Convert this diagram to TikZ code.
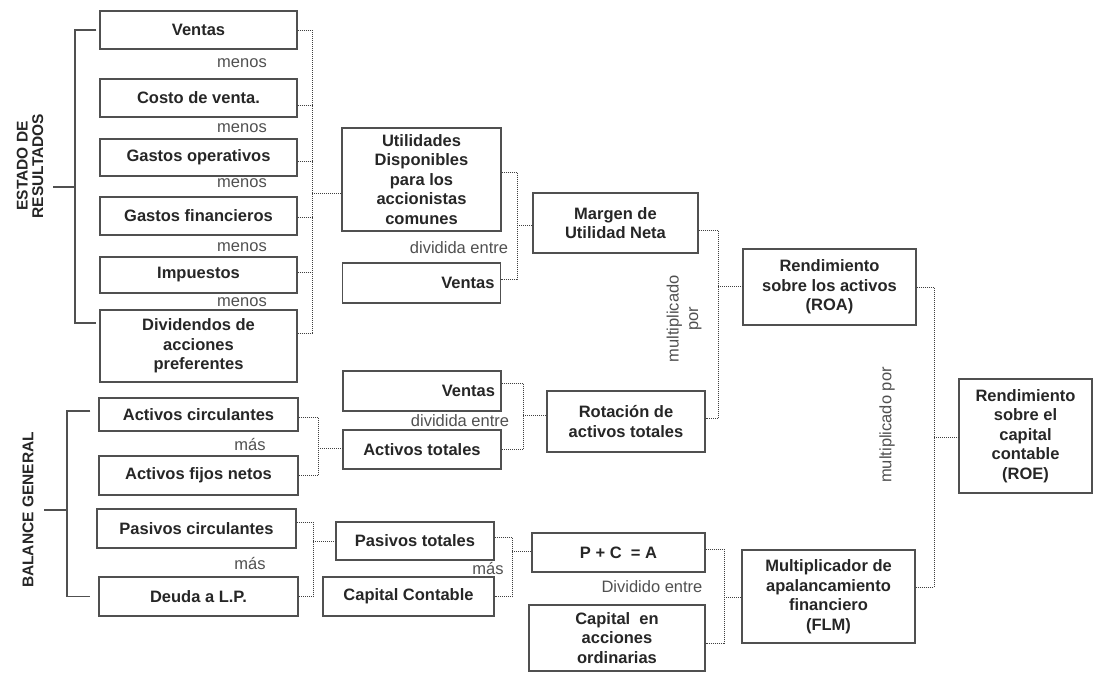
\documentclass[tikz,border=0pt]{standalone}
\usepackage{fontspec}
\setmainfont{Liberation Sans}
\definecolor{boxline}{HTML}{505050}
\definecolor{ink}{HTML}{262626}
\definecolor{labelgray}{HTML}{505050}
\definecolor{dotgray}{HTML}{404040}
\begin{document}
\begin{tikzpicture}[
        x=1pt, y=-1pt,
        box/.style={
            draw=boxline,
            line width=1.4pt,
            align=center,
            inner sep=2pt,
            text=ink,
            font=\fontsize{16.5}{19.5}\selectfont\bfseries
        },
        rbox/.style={
            box,
            align=right,
            inner xsep=6pt
        },
        lbl/.style={
            text=labelgray,
            inner sep=0pt,
            align=center,
            font=\fontsize{16.5}{19.5}\selectfont
        },
        sect/.style={
            rotate=90,
            text=ink,
            align=center,
            inner sep=0pt,
            font=\fontsize{15.5}{15.5}\selectfont\bfseries
        },
        dots/.style={draw=dotgray, line width=1pt, dash pattern=on 1pt off 1pt},
        bracket/.style={draw=boxline, line width=1.4pt}
    ]

    \useasboundingbox (0,0) rectangle (1100,673);

    % estado de resultados
    \node[sect] (er) at (30,166) {ESTADO DE\\RESULTADOS};
    \node[box, minimum width=197pt, minimum height=38pt] (ventasA) at (198.5,30) {Ventas};
    \node[box, minimum width=197pt, minimum height=38pt] (costo) at (198.5,98) {Costo de venta.};
    \node[box, minimum width=197pt, minimum height=37pt] (gop) at (198.5,157.5) {Gastos operativos};
    \node[box, minimum width=197pt, minimum height=38pt] (gfin) at (198.5,216) {Gastos financieros};
    \node[box, minimum width=197pt, minimum height=36pt] (imp) at (198.5,275) {Impuestos};
    \node[box, minimum width=197pt, minimum height=72pt] (divid) at (198.5,346)
        {Dividendos de\\acciones\\preferentes};
    \foreach \y in {63,128,183,247,302}
        \node[lbl] at (242,\y) {menos};

    \node[box, minimum width=159pt, minimum height=103pt] (utild) at (421.5,179.5)
        {Utilidades\\Disponibles\\para los\\accionistas\\comunes};
    \node[rbox, text width=146pt, minimum height=40pt] (ventasB) at (421.5,283) {Ventas};
    \node[lbl] at (459,248) {dividida entre};
    \node[box, minimum width=165pt, minimum height=60pt] (margen) at (615.5,223)
        {Margen de\\Utilidad Neta};

    % balance general
    \node[sect] (bg) at (28,510) {BALANCE GENERAL};
    \node[box, minimum width=199pt, minimum height=33pt] (actc) at (198.5,414.5) {Activos circulantes};
    \node[box, minimum width=199pt, minimum height=39pt] (actf) at (198.5,475.5) {Activos fijos netos};
    \node[box, minimum width=199pt, minimum height=39pt] (pasc) at (196.5,528.5) {Pasivos circulantes};
    \node[box, minimum width=199pt, minimum height=39pt] (deuda) at (198.5,596.5) {Deuda a L.P.};
    \node[lbl] at (250,444) {más};
    \node[lbl] at (250,563) {más};

    \node[rbox, text width=146pt, minimum height=40pt] (ventasC) at (422,391) {Ventas};
    \node[box, minimum width=158pt, minimum height=39pt] (acttot) at (422,449.5) {Activos totales};
    \node[lbl] at (460,421) {dividida entre};
    \node[box, minimum width=158pt, minimum height=61pt] (rotac) at (626,421.5)
        {Rotación de\\activos totales};

    \node[box, minimum width=158pt, minimum height=38pt] (pastot) at (415,541) {Pasivos totales};
    \node[box, minimum width=171pt, minimum height=39pt] (capcont) at (408.5,596.5) {Capital Contable};
    \node[lbl] at (488,568) {más};
    \node[box, minimum width=173pt, minimum height=39pt] (pca) at (618.5,552.5) {P + C \ = A};
    \node[box, minimum width=176pt, minimum height=66pt] (capacc) at (617,638)
        {Capital \ en\\acciones\\ordinarias};
    \node[lbl] at (652,587) {Dividido entre};

    % razones
    \node[box, minimum width=173pt, minimum height=76pt] (roa) at (829.5,287)
        {Rendimiento\\sobre los activos\\(ROA)};
    \node[box, minimum width=173pt, minimum height=93pt] (flm) at (828.5,596.5)
        {Multiplicador de\\apalancamiento\\financiero\\(FLM)};
    \node[box, minimum width=133pt, minimum height=114pt] (roe) at (1025.5,436)
        {Rendimiento\\sobre el\\capital\\contable\\(ROE)};
    \node[lbl, rotate=90] at (684,319) {multiplicado\\por};
    \node[lbl, rotate=90] at (887,425) {multiplicado por};

    % llaves
    \coordinate (erj) at (75,187);
    \draw[bracket] ([xshift=-3pt]ventasA.west) -| (erj) |- ([xshift=-3pt,yshift=23pt]divid.west);
    \draw[bracket] (erj) -- ++(-22,0);
    \coordinate (bgj) at (67,510);
    \draw[bracket] ([xshift=-8pt,yshift=3.5pt]actc.west) -| (bgj) |- ([xshift=-8pt]deuda.west);
    \draw[bracket] (bgj) -- ++(-23,0);

    % conexiones punteadas
    \coordinate (busTop) at (312,30);
    \coordinate (busBot) at (312,333);
    \coordinate (busA) at (312,193);
    \foreach \n/\s in {ventasA/0, costo/-7, gop/-3.5, gfin/-1, imp/3, divid/13}
        \draw[dots] ([yshift=\s pt]\n.east) -- ++(15,0);
    \draw[dots] (busTop) -- (busBot);
    \draw[dots] (busA) -- (busA -| utild.west);

    \coordinate (jB) at (517,225);
    \draw[dots] ([yshift=7.5pt]utild.east) -| (jB) |- ([yshift=4pt]ventasB.east);
    \draw[dots] (jB) -- (jB -| margen.west);

    \coordinate (jC) at (718,286);
    \draw[dots] ([yshift=-7pt]margen.east) -| (jC) |- ([yshift=3pt]rotac.east);
    \draw[dots] (jC) -- (jC -| roa.west);

    \coordinate (jD) at (934,437);
    \draw[dots] (roa.east) -| (jD) |- ([yshift=9.5pt]flm.east);
    \draw[dots] (jD) -- (jD -| roe.west);

    \coordinate (jE) at (318,448);
    \draw[dots] ([yshift=-2.5pt]actc.east) -| (jE) |- (actf.east);
    \draw[dots] (jE) -- (jE -| acttot.west);

    \coordinate (jF) at (523,415);
    \draw[dots] ([yshift=8pt]ventasC.east) -| (jF) |- (acttot.east);
    \draw[dots] (jF) -- (jF -| rotac.west);

    \coordinate (jG) at (313,541);
    \draw[dots] ([yshift=6.5pt]pasc.east) -| (jG) |- (deuda.east);
    \draw[dots] (jG) -- (jG -| pastot.west);

    \coordinate (jH) at (512,551);
    \draw[dots] ([yshift=4pt]pastot.east) -| (jH) |- (capcont.east);
    \draw[dots] (jH) -- (jH -| pca.west);

    \coordinate (jI) at (724,597);
    \draw[dots] ([yshift=3.5pt]pca.east) -| (jI) |- ([yshift=-5pt]capacc.east);
    \draw[dots] (jI) -- (jI -| flm.west);

    \end{tikzpicture}
\end{document}
